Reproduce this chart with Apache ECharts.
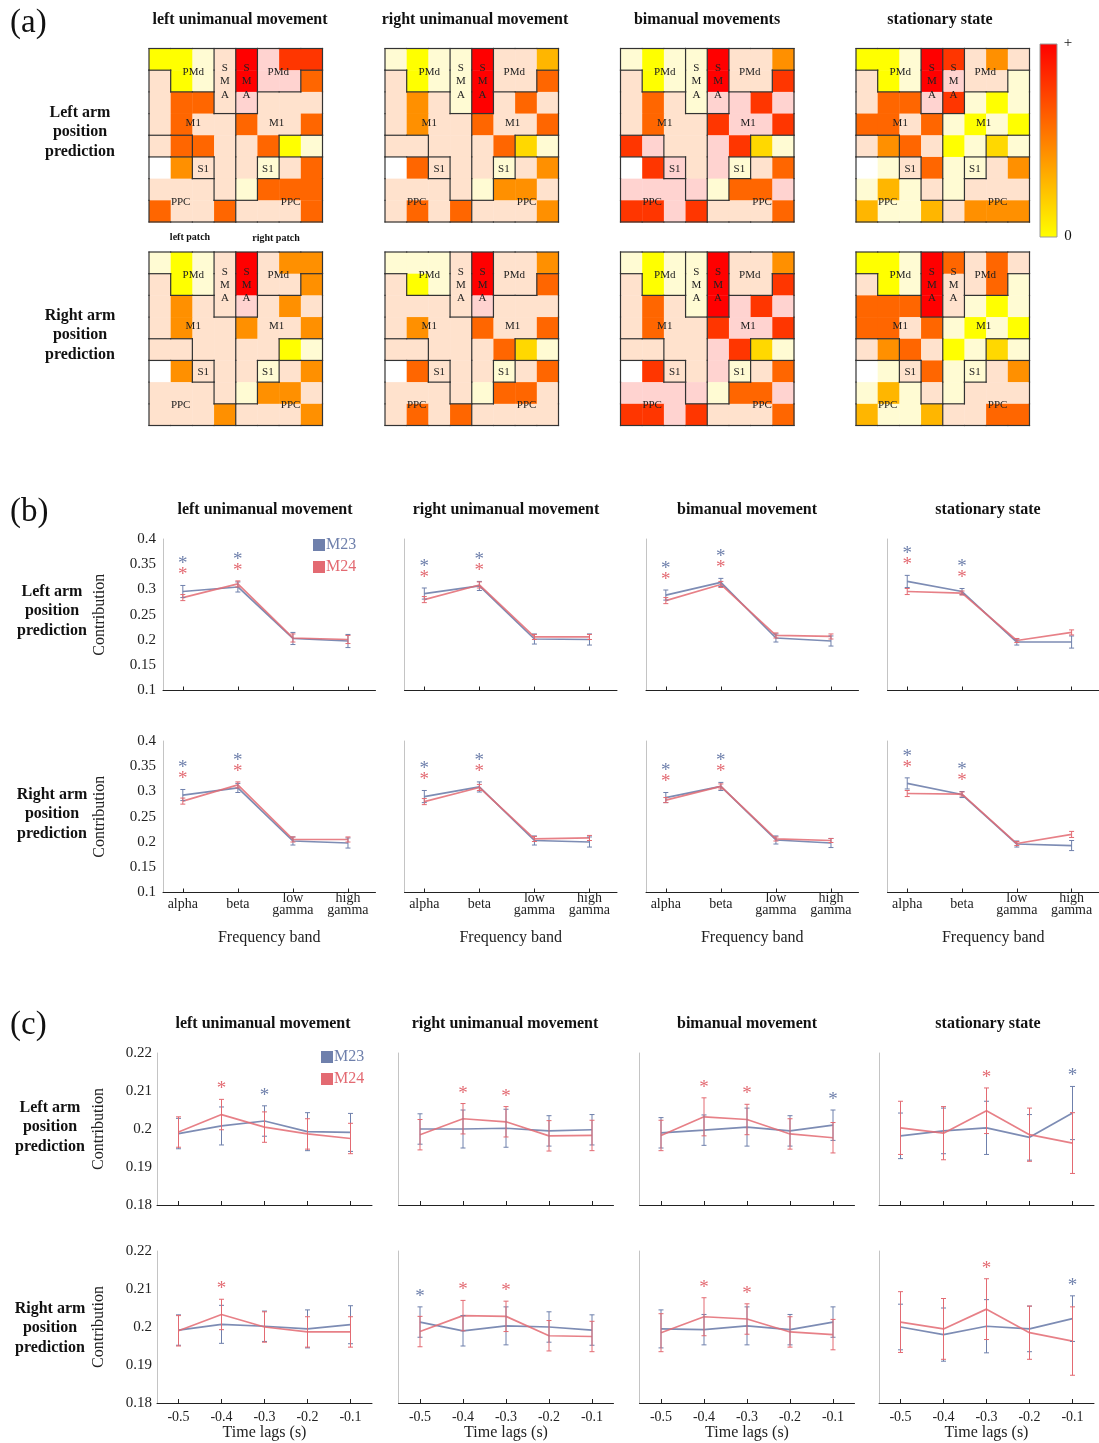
<!DOCTYPE html>
<html>
<head>
<meta charset="utf-8">
<script src="https://cdn.jsdelivr.net/npm/echarts@6.0.0/dist/echarts.min.js"></script>
<style>
  html, body { margin: 0; padding: 0; background: #fff; }
  #chart { width: 1099px; height: 1443px; }
</style>
</head>
<body>
<div id="chart"></div>
<script>
// ---------------- DATA ----------------
const COL_TITLES_A = ['left unimanual movement', 'right unimanual movement', 'bimanual movements', 'stationary state'];
const COL_TITLES_BC = ['left unimanual movement', 'right unimanual movement', 'bimanual movement', 'stationary state'];
const ROW_TITLES = ['Left arm\nposition\nprediction', 'Right arm\nposition\nprediction'];

// electrode region map (8x8): left patch upper-case, right patch lower-case
// P=PMd S=SMA M=M1 X=S1 C=PPC
const REGION_MAP = [
  'PPPSsppp',
  'MPPSsppm',
  'MMMSsmmm',
  'MMMMmmmm',
  'XXMMmmxx',
  'CCXMmxcc',
  'CCCMmccc',
  'CCCCcccc'
];

// contribution level per electrode (0 = none ... 10 = max)
const HEAT_L_LEFTUNI = [
  [4,4,1,2,10,3,9,9],
  [2,4,1,2,10,3,3,8],
  [2,8,8,2,3,2,2,2],
  [2,8,2,2,8,2,2,8],
  [2,8,8,2,2,8,4,1],
  [0,7,2,2,2,1,2,8],
  [2,2,2,2,1,8,8,8],
  [8,2,2,8,2,2,2,8]
];
const HEAT_L_RIGHTUNI = [
  [1,4,1,1,10,2,2,6],
  [2,4,1,1,10,2,2,8],
  [2,7,2,1,10,2,8,2],
  [2,7,2,2,8,2,2,8],
  [2,2,2,2,2,8,5,1],
  [0,8,2,2,2,1,2,7],
  [2,2,2,2,1,7,7,2],
  [2,8,2,8,2,2,2,7]
];
const HEAT_L_BIMAN = [
  [1,4,1,1,10,2,2,7],
  [2,4,1,1,10,2,2,9],
  [2,8,2,1,3,3,9,3],
  [2,8,2,2,9,3,3,9],
  [9,3,2,2,3,9,5,1],
  [0,9,3,2,3,1,2,8],
  [3,3,3,3,1,8,8,3],
  [9,9,3,9,2,2,2,8]
];
const HEAT_L_STAT = [
  [4,4,1,10,9,2,7,2],
  [2,4,1,10,3,2,2,1],
  [2,8,8,3,9,1,4,1],
  [8,8,2,8,1,4,1,4],
  [2,7,8,2,4,1,5,1],
  [0,1,2,8,1,1,2,7],
  [1,6,1,2,1,2,2,2],
  [6,1,1,6,2,7,7,7]
];
const HEAT_R_LEFTUNI = [
  [1,4,1,2,10,2,7,7],
  [2,4,1,2,10,2,2,7],
  [2,7,2,2,3,2,7,2],
  [2,7,2,2,7,2,2,7],
  [2,2,2,2,2,2,4,1],
  [0,7,2,2,2,1,2,7],
  [2,2,2,2,1,7,7,2],
  [2,2,2,7,2,2,2,7]
];
const HEAT_R_RIGHTUNI = [
  [1,1,1,2,10,2,2,7],
  [2,4,1,2,10,2,2,8],
  [2,2,2,2,3,2,2,2],
  [2,7,2,2,8,2,2,8],
  [2,2,2,2,2,8,5,1],
  [0,8,2,2,2,1,2,8],
  [2,2,2,2,1,8,8,2],
  [2,8,2,8,2,2,2,2]
];
const HEAT_R_BIMAN = [
  [1,4,1,1,10,2,2,7],
  [2,4,1,1,10,2,2,9],
  [2,8,2,1,10,3,9,3],
  [2,8,2,2,9,3,3,9],
  [2,2,2,2,3,9,5,1],
  [0,9,2,2,3,1,2,8],
  [3,3,3,3,1,8,8,3],
  [9,9,3,9,2,2,2,8]
];
const HEAT_R_STAT = [
  [4,4,1,10,8,2,8,2],
  [2,4,1,10,2,2,8,1],
  [8,8,8,10,2,1,4,1],
  [8,8,2,8,1,4,1,4],
  [2,7,8,2,4,1,5,1],
  [0,1,2,8,1,1,2,7],
  [1,6,1,2,1,2,2,2],
  [6,1,1,6,2,2,8,8]
];
const HEAT_PANELS = [HEAT_L_LEFTUNI, HEAT_L_RIGHTUNI, HEAT_L_BIMAN, HEAT_L_STAT,
                     HEAT_R_LEFTUNI, HEAT_R_RIGHTUNI, HEAT_R_BIMAN, HEAT_R_STAT];

// (b) frequency bands
const BANDS = ['alpha', 'beta', 'low\ngamma', 'high\ngamma'];
const BAND_X = [1, 2, 3, 4];
const B_M23 = [
  [0.296,0.305,0.203,0.198],
  [0.292,0.307,0.202,0.201],
  [0.289,0.314,0.204,0.198],
  [0.316,0.296,0.196,0.196],
  [0.293,0.307,0.202,0.198],
  [0.290,0.309,0.203,0.200],
  [0.288,0.310,0.204,0.198],
  [0.316,0.294,0.196,0.193]
];
const B_M24 = [
  [0.284,0.311,0.204,0.201],
  [0.280,0.309,0.206,0.206],
  [0.278,0.310,0.209,0.207],
  [0.296,0.293,0.199,0.215],
  [0.281,0.313,0.205,0.205],
  [0.280,0.308,0.206,0.208],
  [0.283,0.310,0.206,0.203],
  [0.296,0.295,0.197,0.215]
];
const B_M23_ERR = [
  [0.012,0.010,0.012,0.013],
  [0.011,0.009,0.010,0.011],
  [0.010,0.008,0.008,0.010],
  [0.012,0.006,0.006,0.012],
  [0.011,0.009,0.008,0.010],
  [0.012,0.010,0.009,0.010],
  [0.010,0.008,0.008,0.009],
  [0.011,0.006,0.006,0.010]
];
const B_M24_ERR = [
  [0.006,0.006,0.008,0.008],
  [0.006,0.006,0.005,0.005],
  [0.006,0.006,0.005,0.005],
  [0.006,0.004,0.004,0.005],
  [0.006,0.006,0.005,0.005],
  [0.006,0.006,0.005,0.005],
  [0.005,0.005,0.004,0.004],
  [0.006,0.004,0.004,0.006]
];
const B_SIG_M23 = [[1,1,0,0],[1,1,0,0],[1,1,0,0],[1,1,0,0],[1,1,0,0],[1,1,0,0],[1,1,0,0],[1,1,0,0]];
const B_SIG_M24 = [[1,1,0,0],[1,1,0,0],[1,1,0,0],[1,1,0,0],[1,1,0,0],[1,1,0,0],[1,1,0,0],[1,1,0,0]];
const B_Y_TICKS = [0.1, 0.4, 0.05];

// (c) time lags
const LAGS = [-0.5, -0.4, -0.3, -0.2, -0.1];
const C_M23 = [
  [0.1988,0.2008,0.2021,0.1993,0.1991],
  [0.2000,0.2000,0.2002,0.1995,0.1998],
  [0.1990,0.1997,0.2005,0.1995,0.2010],
  [0.1982,0.1995,0.2003,0.1978,0.2042],
  [0.1992,0.2007,0.2002,0.1995,0.2006],
  [0.2013,0.1990,0.2003,0.2000,0.1992],
  [0.1995,0.1993,0.2003,0.1993,0.2013],
  [0.2000,0.1980,0.2002,0.1995,0.2022]
];
const C_M24 = [
  [0.1992,0.2038,0.2005,0.1987,0.1975],
  [0.1985,0.2027,0.2019,0.1982,0.1983],
  [0.1983,0.2032,0.2025,0.1987,0.1977],
  [0.2003,0.1989,0.2048,0.1985,0.1963],
  [0.1990,0.2033,0.2000,0.1987,0.1987],
  [0.1988,0.2030,0.2028,0.1977,0.1975],
  [0.1985,0.2027,0.2021,0.1987,0.1980],
  [0.2013,0.1995,0.2047,0.1985,0.1963]
];
const C_M23_ERR = [
  [0.004,0.005,0.004,0.005,0.005],
  [0.004,0.005,0.005,0.004,0.004],
  [0.004,0.004,0.005,0.004,0.004],
  [0.006,0.006,0.007,0.006,0.007],
  [0.004,0.005,0.004,0.005,0.005],
  [0.004,0.004,0.005,0.004,0.004],
  [0.005,0.004,0.005,0.004,0.004],
  [0.006,0.007,0.007,0.006,0.006]
];
const C_M24_ERR = [
  [0.004,0.004,0.004,0.004,0.004],
  [0.004,0.004,0.004,0.004,0.004],
  [0.004,0.005,0.004,0.004,0.004],
  [0.007,0.007,0.006,0.007,0.008],
  [0.004,0.004,0.004,0.004,0.004],
  [0.004,0.004,0.004,0.004,0.004],
  [0.005,0.005,0.004,0.004,0.004],
  [0.008,0.008,0.008,0.007,0.009]
];
const C_SIG_M23 = [[0,0,1,0,0],[0,0,0,0,0],[0,0,0,0,1],[0,0,0,0,1],[0,0,0,0,0],[1,0,0,0,0],[0,0,0,0,0],[0,0,0,0,1]];
const C_SIG_M24 = [[0,1,0,0,0],[0,1,1,0,0],[0,1,1,0,0],[0,0,1,0,0],[0,1,0,0,0],[0,1,1,0,0],[0,1,1,0,0],[0,0,1,0,0]];
const C_Y_TICKS = [0.18, 0.22, 0.01];

// ---------------- STYLE / LAYOUT ----------------
const SERIF = '"Liberation Serif", "Times New Roman", serif';
const C23 = '#6F80AC';
const C24 = '#E36A72';
const PALETTE = ['#FFFFFF', '#FFFBD3', '#FFE2CD', '#FFD3D0', '#FFFF00', '#FFD800',
                 '#FFB600', '#FF9000', '#FF6600', '#FF3600', '#FF0000'];
const HEAT_LABELS = [
  {t: 'PMd', x: 2.04, y: 1.08}, {t: 'PMd', x: 5.96, y: 1.08},
  {t: 'S\nM\nA', x: 3.5, y: 1.52}, {t: 'S\nM\nA', x: 4.5, y: 1.52},
  {t: 'M1', x: 2.04, y: 3.42}, {t: 'M1', x: 5.88, y: 3.42},
  {t: 'S1', x: 2.5, y: 5.56}, {t: 'S1', x: 5.48, y: 5.56},
  {t: 'PPC', x: 1.46, y: 7.08}, {t: 'PPC', x: 6.53, y: 7.08}
];
const HEAT_LEFT = [149, 385, 620.5, 856];
const HEAT_TOP = [48.5, 252];
const HEAT_SIZE = 173.5;
const B_LEFT = [163, 404.5, 646, 887.5], B_TOP = [539, 741], B_W = 212.5, B_H = 151.5;
const C_LEFT = [157, 398.5, 639.5, 879], C_TOP = [1053, 1251], C_W = 215, C_H = 152;

// ---------------- BUILD ----------------
const grids = [], xAxes = [], yAxes = [], series = [];
function addGrid(g, xa, ya) {
  grids.push(Object.assign({containLabel: false}, g));
  const i = grids.length - 1;
  xa.gridIndex = i; ya.gridIndex = i;
  xAxes.push(xa); yAxes.push(ya);
  return i;
}

function heatRender(params, api) {
  const p = api.coord([api.value(0), api.value(1)]);
  const s = api.size([1, 1]);
  return {type: 'rect', shape: {x: p[0], y: p[1], width: s[0] + 0.4, height: s[1] + 0.4},
          style: {fill: PALETTE[api.value(2)]}};
}
function boundaryRender(params, api) {
  const c = api.value(0), r = api.value(1);
  const p0 = api.coord([c, r]), p1 = api.coord([c + 1, r + 1]);
  const id = REGION_MAP[r][c];
  const ch = [];
  const add = (x1, y1, x2, y2) => ch.push({type: 'line', shape: {x1, y1, x2, y2},
      style: {stroke: '#333', lineWidth: 1.2, lineCap: 'square'}});
  if (c === 7 || REGION_MAP[r][c + 1] !== id) add(p1[0], p0[1], p1[0], p1[1]);
  if (r === 7 || REGION_MAP[r + 1][c] !== id) add(p0[0], p1[1], p1[0], p1[1]);
  if (c === 0) add(p0[0], p0[1], p0[0], p1[1]);
  if (r === 0) add(p0[0], p0[1], p1[0], p0[1]);
  return {type: 'group', children: ch};
}
function labelRender(params, api) {
  const p = api.coord([api.value(0), api.value(1)]);
  return {type: 'text', x: p[0], y: p[1],
          style: {text: HEAT_LABELS[params.dataIndex].t, fill: '#222',
                  font: '11px ' + SERIF, align: 'center', verticalAlign: 'middle', lineHeight: 13.3}};
}

// (a) heat panels
HEAT_PANELS.forEach((panel, k) => {
  const row = Math.floor(k / 4), col = k % 4;
  const gi = addGrid({left: HEAT_LEFT[col], top: HEAT_TOP[row], width: HEAT_SIZE, height: HEAT_SIZE},
    {type: 'value', min: 0, max: 8, show: false},
    {type: 'value', min: 0, max: 8, inverse: true, show: false});
  const cells = [];
  panel.forEach((rw, r) => rw.forEach((v, c) => cells.push([c, r, v])));
  series.push({type: 'custom', xAxisIndex: gi, yAxisIndex: gi, renderItem: heatRender,
               data: cells, encode: {x: 0, y: 1}, silent: true, z: 1});
  series.push({type: 'custom', xAxisIndex: gi, yAxisIndex: gi, renderItem: boundaryRender,
               data: cells.map(d => [d[0], d[1]]), encode: {x: 0, y: 1}, silent: true, z: 2});
  series.push({type: 'custom', xAxisIndex: gi, yAxisIndex: gi, renderItem: labelRender,
               data: HEAT_LABELS.map(l => [l.x, l.y]), encode: {x: 0, y: 1}, silent: true, z: 3});
});

function errRender(color) {
  return function (params, api) {
    const x = api.value(0), m = api.value(1), e = api.value(2);
    const t = api.coord([x, m + e]), b = api.coord([x, m - e]);
    const st = {stroke: color, lineWidth: 1};
    return {type: 'group', children: [
      {type: 'line', shape: {x1: t[0], y1: t[1], x2: b[0], y2: b[1]}, style: st},
      {type: 'line', shape: {x1: t[0] - 2.5, y1: t[1], x2: t[0] + 2.5, y2: t[1]}, style: st},
      {type: 'line', shape: {x1: b[0] - 2.5, y1: b[1], x2: b[0] + 2.5, y2: b[1]}, style: st}
    ]};
  };
}
function starRender(params, api) {
  const p = api.coord([api.value(0), api.value(1)]);
  const slot = api.value(2), kind = api.value(3);
  return {type: 'text', x: p[0], y: p[1] - 10 - slot * 11,
          style: {text: '*', fill: kind === 0 ? C23 : C24, font: '19px ' + SERIF,
                  align: 'center', verticalAlign: 'middle'}};
}

function linePanel(opts) {
  const {left, top, w, h, xmin, xmax, X, m23, m24, e23, e24, s23, s24, yt, isLeft, isBottom,
         xFmt, xName, xNameGap, yNameGap, yFmt, xLabelOpt, yLabelMargin} = opts;
  const gi = addGrid({left, top, width: w, height: h},
    {type: 'value', min: xmin, max: xmax,
     axisLine: {show: true, onZero: false, lineStyle: {color: '#222', width: 1}},
     axisTick: {show: true, inside: true, length: 4, customValues: X, lineStyle: {color: '#222'}},
     axisLabel: Object.assign({show: isBottom, customValues: X, formatter: xFmt, color: '#222',
                  fontFamily: SERIF}, xLabelOpt),
     splitLine: {show: false},
     name: isBottom ? xName : '', nameLocation: 'middle', nameGap: xNameGap,
     nameTextStyle: {fontFamily: SERIF, fontSize: 16, color: '#222', verticalAlign: 'middle'}},
    {type: 'value', min: yt[0], max: yt[1], interval: yt[2],
     axisLine: {show: true, onZero: false, lineStyle: {color: '#c4c4c4', width: 1}},
     axisTick: {show: false},
     axisLabel: {show: isLeft, formatter: yFmt, color: '#222', fontFamily: SERIF, fontSize: 15, margin: yLabelMargin},
     splitLine: {show: false},
     name: isLeft ? 'Contribution' : '', nameLocation: 'middle', nameRotate: 90, nameGap: yNameGap,
     nameTextStyle: {fontFamily: SERIF, fontSize: 16, color: '#222'}});
  const ax = {xAxisIndex: gi, yAxisIndex: gi};
  series.push(Object.assign({type: 'line', name: 'M23', color: C23, data: X.map((x, j) => [x, m23[j]]),
    symbol: 'none', lineStyle: {color: C23, width: 1.7, opacity: 0.9}, z: 3, silent: true}, ax));
  series.push(Object.assign({type: 'line', name: 'M24', color: C24, data: X.map((x, j) => [x, m24[j]]),
    symbol: 'none', lineStyle: {color: C24, width: 1.7, opacity: 0.85}, z: 4, silent: true}, ax));
  series.push(Object.assign({type: 'custom', renderItem: errRender(C23), encode: {x: 0, y: 1},
    data: X.map((x, j) => [x, m23[j], e23[j]]), silent: true, z: 5}, ax));
  series.push(Object.assign({type: 'custom', renderItem: errRender(C24), encode: {x: 0, y: 1},
    data: X.map((x, j) => [x, m24[j], e24[j]]), silent: true, z: 5}, ax));
  const stars = [];
  X.forEach((x, j) => {
    const top = Math.max(m23[j] + e23[j], m24[j] + e24[j]);
    let slot = 0;
    if (s24[j]) { stars.push([x, top, slot, 1]); slot++; }
    if (s23[j]) { stars.push([x, top, slot, 0]); }
  });
  series.push(Object.assign({type: 'custom', renderItem: starRender, encode: {x: 0, y: 1},
    data: stars, silent: true, z: 6}, ax));
}

// (b)
for (let k = 0; k < 8; k++) {
  const row = Math.floor(k / 4), col = k % 4;
  linePanel({left: B_LEFT[col], top: B_TOP[row], w: B_W, h: B_H, xmin: 0.64, xmax: 4.5, X: BAND_X,
    m23: B_M23[k], m24: B_M24[k], e23: B_M23_ERR[k], e24: B_M24_ERR[k], s23: B_SIG_M23[k], s24: B_SIG_M24[k],
    yt: B_Y_TICKS, isLeft: col === 0, isBottom: row === 1,
    xFmt: v => BANDS[Math.round(v) - 1], xName: 'Frequency band', xNameGap: 45, yNameGap: 55,
    yFmt: v => String(+v.toFixed(2)), yLabelMargin: 7,
    xLabelOpt: {fontSize: 14, lineHeight: 12, verticalAlign: 'middle', margin: 12}});
}
// (c)
for (let k = 0; k < 8; k++) {
  const row = Math.floor(k / 4), col = k % 4;
  linePanel({left: C_LEFT[col], top: C_TOP[row], w: C_W, h: C_H, xmin: -0.55, xmax: -0.05, X: LAGS,
    m23: C_M23[k], m24: C_M24[k], e23: C_M23_ERR[k], e24: C_M24_ERR[k], s23: C_SIG_M23[k], s24: C_SIG_M24[k],
    yt: C_Y_TICKS, isLeft: col === 0, isBottom: row === 1,
    xFmt: v => v.toFixed(1), xName: 'Time lags (s)', xNameGap: 29, yNameGap: 50,
    yFmt: v => String(+v.toFixed(2)), yLabelMargin: 5,
    xLabelOpt: {fontSize: 14, margin: 7}});
}

// ---------------- TEXT DECORATION ----------------
function txt(x, y, text, size, weight, extra) {
  return {type: 'text', x, y, silent: true,
    style: Object.assign({text, fill: '#111', font: `${weight} ${size}px ${SERIF}`,
      align: 'center', verticalAlign: 'middle'}, extra || {})};
}
const graphics = [];
graphics.push(txt(10, 23, '(a)', 33, 'normal', {align: 'left'}));
graphics.push(txt(10, 512, '(b)', 33, 'normal', {align: 'left'}));
graphics.push(txt(10, 1025, '(c)', 33, 'normal', {align: 'left'}));
const A_TITLE_X = [240, 475, 707, 940];
const B_TITLE_X = [265, 506, 747, 988];
const C_TITLE_X = [263, 505, 747, 988];
COL_TITLES_A.forEach((t, i) => graphics.push(txt(A_TITLE_X[i], 20, t, 16, 'bold')));
COL_TITLES_BC.forEach((t, i) => graphics.push(txt(B_TITLE_X[i], 510, t, 16, 'bold')));
COL_TITLES_BC.forEach((t, i) => graphics.push(txt(C_TITLE_X[i], 1024, t, 16, 'bold')));
[[80, 132], [80, 335]].forEach((p, i) => graphics.push(txt(p[0], p[1], ROW_TITLES[i], 16, 'bold', {lineHeight: 19.5})));
[[52, 611], [52, 814]].forEach((p, i) => graphics.push(txt(p[0], p[1], ROW_TITLES[i], 16, 'bold', {lineHeight: 19.5})));
[[50, 1127], [50, 1328]].forEach((p, i) => graphics.push(txt(p[0], p[1], ROW_TITLES[i], 16, 'bold', {lineHeight: 19.5})));
graphics.push(txt(190, 237, 'left patch', 10, 'bold'));
graphics.push(txt(276, 238, 'right patch', 10, 'bold'));
// colour bar
graphics.push({type: 'rect', silent: true, shape: {x: 1040, y: 44, width: 17, height: 193},
  style: {fill: new echarts.graphic.LinearGradient(0, 0, 0, 1, [
    {offset: 0, color: '#FF0000'}, {offset: 1, color: '#FFFF00'}]), stroke: '#9a9a9a', lineWidth: 1}});
graphics.push(txt(1068, 43, '+', 15, 'normal'));
graphics.push(txt(1068, 236, '0', 15, 'normal'));

const legendBase = {orient: 'vertical', icon: 'rect', itemWidth: 12, itemHeight: 12, itemGap: 6, padding: 0,
  selectedMode: false, textStyle: {fontFamily: SERIF, fontSize: 16, padding: [0, 0, 0, -4]},
  data: [{name: 'M23', textStyle: {color: C23}}, {name: 'M24', textStyle: {color: C24}}]};

const option = {
  animation: false,
  backgroundColor: '#fff',
  textStyle: {fontFamily: SERIF},
  grid: grids,
  xAxis: xAxes,
  yAxis: yAxes,
  legend: [Object.assign({left: 313, top: 537}, legendBase), Object.assign({left: 321, top: 1049}, legendBase)],
  graphic: graphics,
  series: series
};
const chart = echarts.init(document.getElementById('chart'), null, {renderer: 'canvas'});
chart.setOption(option);
</script>
</body>
</html>
